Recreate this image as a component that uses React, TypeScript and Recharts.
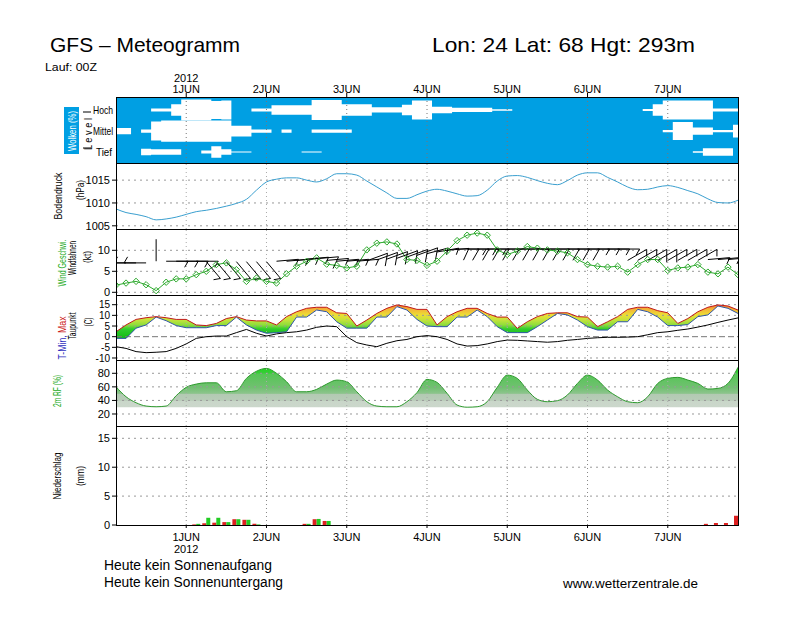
import React from 'react';
import { ComposedChart, Line, Area, Bar, XAxis, YAxis, ReferenceLine } from 'recharts';

// 3-hourly steps, hours after 31 May 2012 00Z
const hours = [3, 6, 9, 12, 15, 18, 21, 24, 27, 30, 33, 36, 39, 42, 45, 48, 51, 54, 57, 60, 63, 66, 69, 72, 75, 78, 81, 84, 87, 90, 93, 96, 99, 102, 105, 108, 111, 114, 117, 120, 123, 126, 129, 132, 135, 138, 141, 144, 147, 150, 153, 156, 159, 162, 165, 168, 171, 174, 177, 180, 183, 186, 189];
const dayTicks = [24, 48, 72, 96, 120, 144, 168];
const dayLabels = ['1JUN', '2JUN', '3JUN', '4JUN', '5JUN', '6JUN', '7JUN'];

// cloud cover (%) per level
const cloudHigh = [0, 0, 0, 0, 15, 15, 55, 100, 100, 100, 85, 90, 0, 0, 15, 15, 45, 45, 45, 45, 95, 95, 95, 55, 55, 55, 25, 25, 25, 50, 90, 90, 30, 30, 20, 20, 20, 20, 8, 8, 0, 0, 0, 0, 0, 0, 0, 0, 0, 0, 0, 0, 0, 10, 55, 90, 90, 90, 90, 90, 15, 15, 15];
const cloudMid = [30, 30, 0, 15, 90, 100, 100, 100, 100, 100, 100, 100, 50, 50, 15, 15, 0, 15, 0, 0, 15, 15, 15, 15, 0, 0, 0, 0, 0, 0, 0, 0, 0, 0, 0, 0, 0, 0, 0, 0, 0, 0, 0, 0, 0, 0, 0, 0, 0, 0, 0, 0, 0, 0, 0, 10, 85, 85, 35, 35, 10, 10, 60];
const cloudLow = [0, 0, 0, 30, 25, 25, 25, 0, 0, 15, 55, 25, 5, 5, 0, 0, 0, 0, 0, 5, 5, 0, 0, 0, 0, 0, 0, 0, 0, 0, 0, 0, 0, 0, 0, 0, 0, 0, 0, 0, 0, 0, 0, 0, 0, 0, 0, 0, 0, 0, 0, 0, 0, 0, 0, 0, 0, 0, 8, 35, 35, 35, 0];

// surface pressure (hPa)
const pressure = [1008.7, 1007.9, 1007.5, 1007.0, 1006.3, 1006.5, 1006.9, 1007.5, 1008.1, 1008.4, 1008.8, 1009.3, 1009.9, 1010.8, 1012.8, 1014.6, 1015.2, 1015.5, 1015.5, 1015.0, 1014.6, 1015.3, 1016.4, 1016.4, 1016.1, 1014.8, 1013.5, 1012.2, 1011.0, 1011.0, 1011.8, 1012.6, 1013.0, 1012.6, 1012.0, 1011.5, 1011.6, 1012.8, 1014.8, 1015.9, 1016.0, 1015.6, 1014.9, 1014.3, 1014.0, 1014.9, 1016.1, 1016.6, 1016.6, 1015.6, 1014.6, 1013.5, 1012.9, 1013.0, 1013.5, 1013.8, 1013.4, 1012.7, 1012.0, 1010.9, 1010.1, 1010.0, 1010.6];

// wind speed (kt), barb direction (deg) and barb base level
const windSpeed = [1.7, 2.2, 2.6, 1.8, 0.4, 2.4, 3.2, 3.2, 4.2, 5.0, 6.6, 7.0, 5.4, 2.6, 3.4, 2.6, 2.2, 4.4, 6.2, 7.4, 8.2, 6.7, 6.4, 5.8, 6.2, 10.1, 11.7, 12.0, 11.5, 7.8, 7.6, 6.4, 7.4, 9.8, 12.3, 13.6, 14.1, 13.6, 10.1, 9.0, 9.8, 10.9, 10.5, 10.1, 9.8, 9.4, 7.8, 6.6, 6.2, 6.0, 6.2, 4.8, 6.6, 7.8, 7.8, 5.2, 5.8, 6.0, 6.6, 4.8, 4.4, 6.0, 4.2];
const windDir = [270, 270, 270, 270, 0, 90, 90, 90, 90, 140, 140, 140, 140, 140, 140, 140, 85, 85, 85, 85, 85, 85, 85, 85, 85, 70, 70, 70, 70, 70, 70, 75, 80, 85, 90, 90, 90, 90, 90, 90, 90, 90, 90, 90, 90, 90, 90, 90, 90, 90, 90, 60, 60, 60, 60, 60, 60, 60, 60, 85, 85, 85, 85];
const barbLevel = [7.0, 7.0, 7.0, 7.0, 7.4, 7.4, 7.4, 7.4, 7.4, 7.3, 7.3, 7.3, 7.3, 7.3, 7.3, 7.3, 7.4, 7.4, 7.6, 7.9, 8.0, 7.6, 7.4, 7.4, 7.4, 7.5, 7.7, 7.9, 8.1, 8.4, 8.8, 9.2, 9.6, 10.0, 10.3, 10.3, 10.3, 10.3, 10.3, 10.3, 10.3, 10.3, 10.3, 10.3, 10.3, 10.3, 10.3, 10.3, 10.3, 10.3, 10.3, 7.6, 7.6, 7.6, 7.6, 7.6, 7.6, 7.6, 7.6, 7.8, 7.8, 7.8, 7.8];

// temperatures (C)
const tMax = [2.3, 5.5, 8.1, 8.9, 9.4, 8.9, 8.1, 8.1, 5.5, 5.2, 6.2, 8.5, 9.4, 7.8, 7.4, 7.4, 5.5, 9.4, 11.7, 13.3, 13.8, 13.8, 11.2, 10.9, 5.0, 7.8, 10.9, 13.3, 14.9, 14.1, 12.8, 12.8, 5.5, 9.4, 11.7, 13.3, 13.3, 10.9, 9.2, 9.2, 3.9, 7.0, 9.4, 10.9, 11.2, 11.2, 9.4, 9.2, 4.7, 7.0, 9.4, 12.8, 13.8, 13.8, 12.2, 11.2, 6.2, 8.5, 11.7, 13.8, 14.9, 14.4, 12.5];
const tMin = [-0.8, -0.8, 4.0, 5.5, 9.2, 7.5, 5.2, 4.2, 4.2, 4.2, 5.2, 5.2, 9.2, 5.5, 3.1, 1.6, 1.9, 2.3, 9.2, 9.2, 12.5, 11.7, 7.0, 4.0, 4.0, 4.0, 9.2, 9.2, 14.1, 12.5, 8.1, 5.0, 4.7, 4.7, 9.2, 9.2, 12.5, 9.4, 4.7, 1.9, 1.9, 1.9, 4.7, 7.8, 10.9, 10.2, 7.8, 4.7, 3.1, 3.1, 7.0, 7.0, 12.8, 11.7, 9.2, 5.2, 5.2, 5.7, 9.4, 10.2, 14.4, 13.3, 10.9];
const dewPoint = [-4.7, -5.5, -7.0, -7.5, -7.3, -7.0, -5.5, -3.4, -0.8, 0.0, 0.3, 0.3, 1.9, 3.4, 1.6, 0.3, 1.3, 1.9, 2.3, 3.1, 4.4, 5.0, 4.7, 0.0, -2.8, -3.9, -4.7, -3.1, -1.9, -1.3, 0.0, 0.5, 0.0, -1.3, -3.4, -4.4, -4.2, -3.4, -2.3, -1.6, -1.7, -2.0, -2.3, -2.6, -2.3, -1.7, -1.3, -0.8, -0.5, -0.3, -0.3, -0.2, 0.0, 0.9, 1.9, 2.3, 3.0, 3.6, 4.5, 5.5, 6.7, 7.8, 8.8];

// 2m relative humidity (%)
const relHum = [60.2, 45.4, 36.6, 31.7, 30.7, 31.7, 47, 59.3, 64.1, 66, 66, 52.8, 54.3, 72.5, 83, 87.2, 80, 67.6, 52.8, 52.8, 56.3, 64.1, 70, 67.6, 52.8, 38.1, 31.7, 30.7, 30.7, 38.1, 51.5, 71, 66.6, 50.4, 33.2, 30, 30.7, 38.1, 59.3, 77.3, 72.5, 55.3, 41.6, 38.1, 39.6, 48, 65.1, 77.3, 70, 55.3, 45.4, 38.1, 36.6, 45.4, 65.1, 72.5, 74, 70, 65.1, 56.8, 57.7, 65.1, 88.8];

// precipitation (mm / 3h)
const rainGreen = [0, 0, 0, 0, 0, 0, 0, 0, 0.2, 1.25, 1.25, 0.5, 1.0, 0.9, 0.1, 0, 0, 0, 0, 0.2, 1.05, 0.7, 0, 0, 0, 0, 0, 0, 0, 0, 0, 0, 0, 0, 0, 0, 0, 0, 0, 0, 0, 0, 0, 0, 0, 0, 0, 0, 0, 0, 0, 0, 0, 0, 0, 0, 0, 0, 0, 0, 0, 0, 0];
const rainRed = [0, 0, 0, 0, 0, 0, 0, 0, 0.1, 0.3, 0.4, 0.5, 1.0, 0.9, 0.2, 0, 0, 0, 0, 0.2, 1.0, 0.7, 0, 0, 0, 0, 0, 0, 0, 0, 0, 0, 0, 0, 0, 0, 0, 0, 0, 0, 0, 0, 0, 0, 0, 0, 0, 0, 0, 0, 0, 0, 0, 0, 0, 0, 0, 0, 0, 0.2, 0.35, 0.35, 1.6];

const FONT = '"Liberation Sans", Arial, sans-serif';
const BLUE = '#009fe3';
const PLOT_L = 116;
const PLOT_R = 738;
const PLOT_W = PLOT_R - PLOT_L;
const AXIS_W = 40;
const PAD = 8;
const MARGIN = { top: PAD, right: 800 - PLOT_R, bottom: PAD, left: PLOT_L - AXIS_W };

// cloud level centres on a 0..3 scale, band half-width for 100 %
const band = (c: number, pct: number) => [c - (pct / 100) * 0.48, c + (pct / 100) * 0.48];

const rows = hours.map((h, i) => ({
  h,
  hi: band(2.41, cloudHigh[i]),
  mid: band(1.45, cloudMid[i]),
  low: band(0.5, cloudLow[i]),
  p: pressure[i],
  ws: windSpeed[i],
  barb: barbLevel[i],
  dir: windDir[i],
  tmax: tMax[i],
  tmin: tMin[i],
  tr: [tMin[i], tMax[i]],
  td: dewPoint[i],
  rh: relHum[i],
  rg: rainGreen[i],
  rr: rainRed[i],
}));

const hiddenX = () => (
  <XAxis type="number" dataKey="h" domain={[3, 189]} ticks={dayTicks} hide allowDataOverflow />
);

const yAxis = (domain: number[], ticks: number[], size = 11) => (
  <YAxis
    type="number"
    domain={domain}
    ticks={ticks}
    interval={0}
    width={AXIS_W}
    tickSize={4}
    tickLine={{ stroke: '#000' }}
    axisLine={false}
    allowDataOverflow
    tick={{ fontSize: size, fill: '#000', fontFamily: FONT }}
  />
);

const dayLines = (color: string) =>
  dayTicks.map((t) => <ReferenceLine key={'d' + t} x={t} stroke={color} strokeDasharray="1 3" />);

const hLines = (ticks: number[]) =>
  ticks.map((t) => <ReferenceLine key={'y' + t} y={t} stroke="#999" strokeDasharray="2 4" />);

const TopTick = (props: any) => {
  const { x, payload } = props;
  const i = dayTicks.indexOf(payload.value);
  return (
    <g fontFamily={FONT} fontSize={11} fill="#000">
      {i === 0 && <text x={x} y={11} textAnchor="middle">2012</text>}
      <text x={x} y={22} textAnchor="middle">{dayLabels[i]}</text>
    </g>
  );
};

const BottomTick = (props: any) => {
  const { x, payload } = props;
  const i = dayTicks.indexOf(payload.value);
  return (
    <g fontFamily={FONT} fontSize={11} fill="#000">
      <text x={x} y={PAD + 115} textAnchor="middle">{dayLabels[i]}</text>
      {i === 0 && <text x={x} y={PAD + 127} textAnchor="middle">2012</text>}
    </g>
  );
};

const Diamond = (props: any) => {
  const { cx, cy, index } = props;
  if (cx == null || cy == null) return <g key={'dm' + index} />;
  const r = 3.2;
  return (
    <polygon
      key={'dm' + index}
      points={`${cx},${cy - r} ${cx + r},${cy} ${cx},${cy + r} ${cx - r},${cy}`}
      fill="none"
      stroke="#2eaa2e"
      strokeWidth={1}
    />
  );
};

// wind barb: staff points where the wind comes from, feathers at the tip
const Barb = (props: any) => {
  const { cx, cy, payload, index } = props;
  if (cx == null || cy == null) return <g key={'bb' + index} />;
  const a = (payload.dir * Math.PI) / 180;
  const ux = Math.sin(a);
  const uy = -Math.cos(a);
  const len = 22;
  const tx = cx + ux * len;
  const ty = cy + uy * len;
  const fa = Math.atan2(-uy, -ux) - Math.PI / 3;
  const fx = Math.cos(fa);
  const fy = Math.sin(fa);
  const n5 = payload.ws < 1 ? 0 : Math.max(1, Math.round(payload.ws / 5));
  const full = Math.floor(n5 / 2);
  const half = n5 % 2;
  const feathers = [];
  for (let k = 0; k < full + half; k++) {
    const sx = tx - ux * 3 * k;
    const sy = ty - uy * 3 * k;
    const fl = k < full ? 13 : 7;
    feathers.push(<line key={'f' + k} x1={sx} y1={sy} x2={sx + fx * fl} y2={sy + fy * fl} />);
  }
  return (
    <g key={'bb' + index} stroke="#000" strokeWidth={1} clipPath="url(#windClip)">
      <line x1={cx} y1={cy} x2={tx} y2={ty} />
      {feathers}
    </g>
  );
};

const VText = ({ x, y, len, size = 11, fill = '#000', children }: any) => (
  <text
    x={x}
    y={y}
    transform={`rotate(-90 ${x} ${y})`}
    textAnchor="middle"
    dominantBaseline="central"
    fontSize={size}
    fill={fill}
    textLength={len}
    lengthAdjust="spacingAndGlyphs"
  >
    {children}
  </text>
);

const frame = (top: number, height: number) => (
  <div
    key={'fr' + top}
    style={{
      position: 'absolute',
      left: PLOT_L,
      top,
      width: PLOT_W + 1,
      height: height + 1,
      border: '1px solid #000',
      boxSizing: 'border-box',
      pointerEvents: 'none',
    }}
  />
);

// panel plot area starts at `top`; the svg gets PAD extra above and below
const at = (top: number): React.CSSProperties => ({ position: 'absolute', left: 0, top: top - PAD });

const App: React.FC = () => {
  return (
    <div
      style={{
        position: 'absolute',
        left: 0,
        top: 0,
        width: 800,
        height: 626,
        background: '#fff',
        fontFamily: FONT,
        overflow: 'hidden',
      }}
    >
      <div style={{ position: 'absolute', left: PLOT_L, top: 97, width: PLOT_W, height: 66, background: BLUE }} />

      {/* clouds */}
      <div style={{ position: 'absolute', left: 0, top: 71 }}>
        <ComposedChart width={800} height={92} data={rows} margin={{ ...MARGIN, top: 0, bottom: 0 }}>
          <XAxis
            type="number"
            dataKey="h"
            domain={[3, 189]}
            ticks={dayTicks}
            interval={0}
            orientation="top"
            height={26}
            tickSize={4}
            tickLine={{ stroke: '#000' }}
            axisLine={false}
            tick={TopTick}
            allowDataOverflow
          />
          <YAxis type="number" domain={[0, 3]} ticks={[]} width={AXIS_W} axisLine={false} tickLine={false} />
          <Area dataKey="hi" type="step" stroke="none" fill="#fff" fillOpacity={1} isAnimationActive={false} />
          <Area dataKey="mid" type="step" stroke="none" fill="#fff" fillOpacity={1} isAnimationActive={false} />
          <Area dataKey="low" type="step" stroke="none" fill="#fff" fillOpacity={1} isAnimationActive={false} />
          {dayLines('#777')}
        </ComposedChart>
      </div>

      {/* pressure */}
      <div style={at(163)}>
        <ComposedChart width={800} height={66 + 2 * PAD} data={rows} margin={MARGIN}>
          {hiddenX()}
          {yAxis([1004.3, 1018.75], [1005, 1010, 1015])}
          {hLines([1005, 1010, 1015])}
          {dayLines('#aaa')}
          <Line dataKey="p" type="monotone" stroke="#3a9fcf" strokeWidth={1} dot={false} isAnimationActive={false} />
        </ComposedChart>
      </div>

      {/* wind */}
      <div style={at(229)}>
        <ComposedChart width={800} height={66 + 2 * PAD} data={rows} margin={MARGIN}>
          <defs>
            <clipPath id="windClip">
              <rect x={PLOT_L} y={PAD} width={PLOT_W} height={66} />
            </clipPath>
          </defs>
          {hiddenX()}
          {yAxis([-0.64, 15.07], [0, 5, 10])}
          {hLines([0, 5, 10])}
          {dayLines('#aaa')}
          <Line dataKey="barb" stroke="none" dot={Barb} isAnimationActive={false} />
          <Line dataKey="ws" type="linear" stroke="#2eaa2e" strokeWidth={1} dot={Diamond} isAnimationActive={false} />
        </ComposedChart>
      </div>

      {/* temperature */}
      <div style={at(295)}>
        <ComposedChart width={800} height={65 + 2 * PAD} data={rows} margin={MARGIN}>
          <defs>
            <linearGradient id="tGrad" x1="0" y1="0" x2="0" y2="1">
              <stop offset="0" stopColor="#f07828" />
              <stop offset="0.12" stopColor="#f4b038" />
              <stop offset="0.3" stopColor="#ecdf34" />
              <stop offset="0.45" stopColor="#c4e23c" />
              <stop offset="0.6" stopColor="#8ede3a" />
              <stop offset="0.72" stopColor="#30cc2e" />
              <stop offset="1" stopColor="#12bb12" />
            </linearGradient>
          </defs>
          {hiddenX()}
          {yAxis([-10.94, 19.55], [-10, -5, 0, 5, 10, 15], 10)}
          {hLines([-10, -5, 5, 10, 15])}
          <ReferenceLine y={0} stroke="#777" strokeDasharray="6 3" />
          {dayLines('#aaa')}
          <Area dataKey="tr" type="linear" stroke="none" fill="url(#tGrad)" fillOpacity={1} isAnimationActive={false} />
          <Line dataKey="tmin" type="linear" stroke="#2f55a8" strokeWidth={1} dot={false} isAnimationActive={false} />
          <Line dataKey="tmax" type="linear" stroke="#c01818" strokeWidth={1} dot={false} isAnimationActive={false} />
          <Line dataKey="td" type="linear" stroke="#000" strokeWidth={1} dot={false} isAnimationActive={false} />
        </ComposedChart>
      </div>

      {/* relative humidity */}
      <div style={at(360)}>
        <ComposedChart width={800} height={66 + 2 * PAD} data={rows} margin={MARGIN}>
          <defs>
            <linearGradient id="rhGrad" x1="0" y1="0" x2="0" y2="1">
              <stop offset="0" stopColor="#1ed81e" />
              <stop offset="0.15" stopColor="#38cc38" />
              <stop offset="0.16" stopColor="#55c655" />
              <stop offset="0.5" stopColor="#70c070" />
              <stop offset="0.655" stopColor="#8cc48c" />
              <stop offset="0.665" stopColor="#b2c9b2" />
              <stop offset="0.83" stopColor="#b8ccb8" />
              <stop offset="0.84" stopColor="#c9d6c9" />
              <stop offset="1" stopColor="#cbd7cb" />
            </linearGradient>
          </defs>
          {hiddenX()}
          {yAxis([2.3, 99.6], [20, 40, 60, 80])}
          <Area
            dataKey="rh"
            type="monotone"
            baseValue={30}
            stroke="#2e9a2e"
            strokeWidth={1}
            fill="url(#rhGrad)"
            fillOpacity={1}
            isAnimationActive={false}
          />
          {hLines([20, 40, 60, 80])}
          {dayLines('#aaa')}
        </ComposedChart>
      </div>

      {/* precipitation */}
      <div style={at(426)}>
        <ComposedChart width={800} height={99 + 32 + PAD} data={rows} margin={{ ...MARGIN, bottom: 0 }} barGap={0}>
          <XAxis
            type="number"
            dataKey="h"
            domain={[3, 189]}
            ticks={dayTicks}
            interval={0}
            height={32}
            tickSize={3}
            tickLine={{ stroke: '#000' }}
            axisLine={false}
            tick={BottomTick}
            allowDataOverflow
          />
          {yAxis([0, 17.13], [0, 5, 10, 15])}
          {hLines([5, 10, 15])}
          {dayLines('#888')}
          <Bar dataKey="rr" fill="#dd2020" barSize={4} isAnimationActive={false} />
          <Bar dataKey="rg" fill="#22cc22" barSize={4} isAnimationActive={false} />
        </ComposedChart>
      </div>

      {frame(97, 66)}
      {frame(163, 66)}
      {frame(229, 66)}
      {frame(295, 65)}
      {frame(360, 66)}
      {frame(426, 99)}

      <svg
        width={800}
        height={626}
        style={{ position: 'absolute', left: 0, top: 0, pointerEvents: 'none' }}
        fontFamily={FONT}
      >
        <text x={50} y={52} fontSize={21} textLength={190} lengthAdjust="spacingAndGlyphs">GFS – Meteogramm</text>
        <text x={432} y={52} fontSize={21} textLength={263} lengthAdjust="spacingAndGlyphs">Lon: 24 Lat: 68 Hgt: 293m</text>
        <text x={45} y={71} fontSize={10} textLength={52} lengthAdjust="spacingAndGlyphs">Lauf: 00Z</text>

        <rect x={64} y={107} width={15} height={47} fill={BLUE} />
        <VText x={71.5} y={131} len={40} fill="#fff">Wolken (%)</VText>
        <VText x={88} y={134} len={32}>L e v e l</VText>
        <line x1={83} y1={112} x2={91} y2={112} stroke="#000" />
        <line x1={83} y1={148} x2={91} y2={148} stroke="#000" />
        <text x={93} y={114} fontSize={11} textLength={20} lengthAdjust="spacingAndGlyphs">Hoch</text>
        <text x={93} y={135} fontSize={11} textLength={20} lengthAdjust="spacingAndGlyphs">Mittel</text>
        <text x={96} y={156} fontSize={11} textLength={16} lengthAdjust="spacingAndGlyphs">Tief</text>

        <VText x={58} y={196} len={47}>Bodendruck</VText>
        <VText x={80} y={190} len={20}>(hPa)</VText>

        <VText x={61.5} y={263} len={47} fill="#22aa22">Wind Geschwi.</VText>
        <VText x={71.5} y={258} len={34}>Windfahnen</VText>
        <VText x={87} y={257} len={12}>(kt)</VText>

        <text
          x={61.5}
          y={338}
          transform="rotate(-90 61.5 338)"
          textAnchor="middle"
          dominantBaseline="central"
          fontSize={11}
          textLength={43}
          lengthAdjust="spacingAndGlyphs"
        >
          <tspan fill="#3030c0">T-Min, </tspan>
          <tspan fill="#cc1a1a">Max</tspan>
        </text>
        <VText x={72} y={326} len={27}>Taupunkt</VText>
        <VText x={88} y={322} len={9}>(C)</VText>

        <VText x={57} y={391} len={32} fill="#22aa22">2m RF (%)</VText>

        <VText x={57} y={476} len={47}>Niederschlag</VText>
        <VText x={80} y={476} len={20}>(mm)</VText>

        <text x={104} y={570} fontSize={14} textLength={168} lengthAdjust="spacingAndGlyphs">Heute kein Sonnenaufgang</text>
        <text x={104} y={587} fontSize={14} textLength={179} lengthAdjust="spacingAndGlyphs">Heute kein Sonnenuntergang</text>
        <text x={563} y={588} fontSize={13} textLength={135} lengthAdjust="spacingAndGlyphs">www.wetterzentrale.de</text>
      </svg>
    </div>
  );
};

export default App;
